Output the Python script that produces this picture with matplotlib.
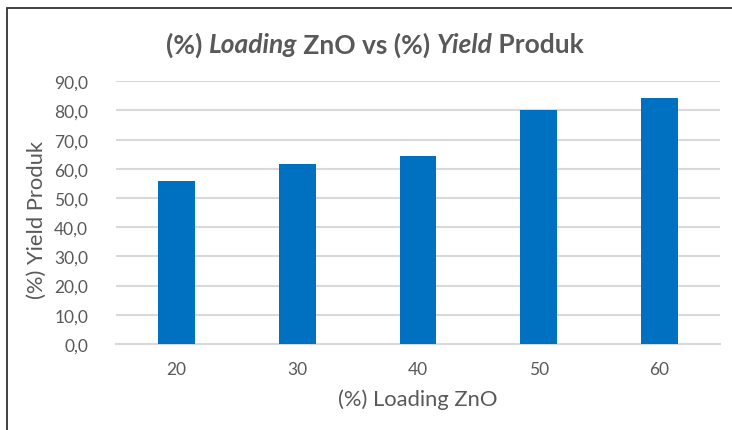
import matplotlib
matplotlib.use("Agg")
import matplotlib.pyplot as plt
from matplotlib.patches import Rectangle

categories = ["20", "30", "40", "50", "60"]
yield_values = [55.8, 61.7, 64.4, 80.0, 84.2]
y_ticks = [0, 10, 20, 30, 40, 50, 60, 70, 80, 90]
y_tick_labels = ["0,0", "10,0", "20,0", "30,0", "40,0", "50,0", "60,0", "70,0", "80,0", "90,0"]

W, H = 732, 431
plt.rcParams['font.family'] = ['Lato', 'DejaVu Sans']
fig = plt.figure(figsize=(W / 100, H / 100), dpi=100)
fig.patch.set_facecolor('white')

# chart frame (only top/left visible in crop)
fig.patches.append(Rectangle((7 / W, -0.05), 1.2, 1 - 9 / H + 0.05, transform=fig.transFigure,
                             fill=False, edgecolor='#333333', linewidth=1.3))

ax = fig.add_axes([116 / W, 1 - 345 / H, (720 - 116) / W, (345 - 82.3) / H])
x = range(len(categories))
ax.bar(x, yield_values, width=0.306, color='#0070C0', zorder=3)
ax.set_xlim(-0.5, len(categories) - 0.5)
ax.set_ylim(0, 90)
ax.set_yticks(y_ticks)
ax.set_yticklabels(y_tick_labels)
ax.set_xticks(list(x))
ax.set_xticklabels(categories)
ax.yaxis.grid(True, color='#d9d9d9', linewidth=1.5, zorder=0)
ax.set_axisbelow(True)
for s in ['top', 'right', 'left']:
    ax.spines[s].set_visible(False)
ax.spines['bottom'].set_color('#d9d9d9')
ax.spines['bottom'].set_linewidth(1.5)
ax.tick_params(axis='both', length=0, colors='#595959', labelsize=12.5)
ax.tick_params(axis='y', pad=20)
ax.tick_params(axis='x', pad=12)

fig.text(37 / W, 1 - 220 / H, "(%) Yield Produk", rotation=90, ha='center', va='center',
         fontsize=15.8, color='#595959')
fig.text(418 / W, 1 - 400 / H, "(%) Loading ZnO", ha='center', va='center',
         fontsize=15.8, color='#595959')

# title with mixed italics
pieces = [("(%) ", 'normal'), ("Loading", 'italic'), (" ZnO vs (%) ", 'normal'),
          ("Yield", 'italic'), (" Produk", 'normal')]
fig.canvas.draw()
renderer = fig.canvas.get_renderer()
texts = []
total = 0
for s, st in pieces:
    t = fig.text(0, 0, s, fontsize=19, fontweight='bold', style=st, color='#595959',
                 ha='left', va='center')
    bb = t.get_window_extent(renderer)
    texts.append((t, bb.width))
    total += bb.width
start = 375 - total / 2
cur = start
for t, w in texts:
    t.set_position((cur / W, 1 - 45 / H))
    cur += w

fig.savefig("out.png", dpi=100, facecolor='white')
